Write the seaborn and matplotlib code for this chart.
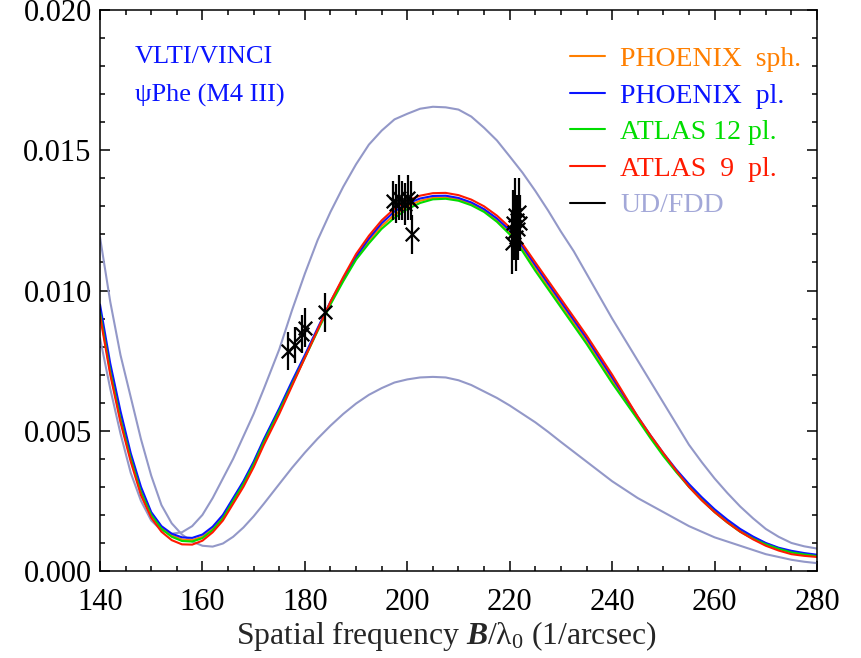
import numpy as np
import pandas as pd
import matplotlib
matplotlib.use("Agg")
import matplotlib.pyplot as plt
from matplotlib.lines import Line2D
from matplotlib.ticker import MultipleLocator, FormatStrFormatter
import seaborn as sns

# Spatial frequency grid (1/arcsec) of the model curves
freq = [140, 142, 144, 146, 148, 150, 152, 154, 156, 158, 160, 162, 164, 166,
        168, 170, 172, 175, 177.5, 180, 182.5, 185, 187.5, 190, 192.5, 195,
        197.5, 200, 202.5, 205, 207.5, 210, 212.5, 215, 217.5, 220, 222.5,
        225, 227.5, 230, 232.5, 235, 237.5, 240, 242.5, 245, 247.5, 250,
        252.5, 255, 257.5, 260, 262.5, 265, 267.5, 270, 272.5, 275, 277.5, 280]

# Squared visibility of the model atmospheres
phoenix_sph = [0.0093, 0.0072, 0.0055, 0.0041, 0.0029, 0.00205, 0.00155, 0.00127,
               0.00112, 0.0011, 0.00122, 0.0015, 0.00193, 0.00255, 0.00315,
               0.00385, 0.00465, 0.00575, 0.00671, 0.00765, 0.00861, 0.00955,
               0.01038, 0.01115, 0.01177, 0.0123, 0.0127, 0.0130, 0.0132,
               0.0133, 0.01332, 0.01325, 0.01309, 0.01285, 0.01251, 0.01207,
               0.01148, 0.0108, 0.01015, 0.0095, 0.00885, 0.0082, 0.0075,
               0.0068, 0.00612, 0.00545, 0.00478, 0.00415, 0.00357, 0.00305,
               0.00258, 0.00215, 0.00178, 0.00145, 0.00119, 0.00098, 0.00081,
               0.00069, 0.00061, 0.00055]
phoenix_pl = [0.0095, 0.0074, 0.0057, 0.0042, 0.0030, 0.0021, 0.0016, 0.00133,
              0.0012, 0.00118, 0.0013, 0.00158, 0.0020, 0.0026, 0.0032, 0.0039,
              0.0047, 0.0058, 0.00677, 0.0077, 0.00866, 0.0096, 0.01043,
              0.0112, 0.01185, 0.0124, 0.01282, 0.0131, 0.01328, 0.01337,
              0.01338, 0.0133, 0.01314, 0.0129, 0.01257, 0.01215, 0.01157,
              0.0109, 0.01025, 0.0096, 0.00895, 0.0083, 0.0076, 0.0069, 0.0062,
              0.0055, 0.00483, 0.0042, 0.00362, 0.0031, 0.00263, 0.0022,
              0.00183, 0.0015, 0.00123, 0.0010, 0.00083, 0.00072, 0.00064,
              0.00058]
atlas12_pl = [0.0092, 0.0071, 0.0054, 0.0040, 0.0028, 0.0020, 0.0015, 0.00122,
              0.00107, 0.00105, 0.00117, 0.00146, 0.00188, 0.0025, 0.0031,
              0.0038, 0.0046, 0.0057, 0.00665, 0.0076, 0.00856, 0.0095,
              0.01033, 0.0111, 0.01168, 0.0122, 0.01259, 0.0129, 0.01312,
              0.01325, 0.01327, 0.0132, 0.01304, 0.0128, 0.01245, 0.0120,
              0.0114, 0.0107, 0.01005, 0.0094, 0.00875, 0.0081, 0.0074, 0.0067,
              0.00605, 0.0054, 0.00473, 0.0041, 0.00353, 0.0030, 0.00253,
              0.0021, 0.00173, 0.0014, 0.00115, 0.00095, 0.00079, 0.00066,
              0.00059, 0.00053]
atlas9_pl = [0.0091, 0.0070, 0.0053, 0.0039, 0.0027, 0.0019, 0.0014, 0.0011,
             0.00095, 0.00094, 0.00108, 0.00138, 0.0018, 0.0024, 0.0030, 0.0037,
             0.0045, 0.0056, 0.0066, 0.0076, 0.0086, 0.0096, 0.01048, 0.0113,
             0.01195, 0.0125, 0.01292, 0.0132, 0.01338, 0.01347, 0.01348,
             0.0134, 0.01324, 0.0130, 0.01267, 0.01225, 0.01166, 0.0110,
             0.01035, 0.0097, 0.00905, 0.0084, 0.0077, 0.0070, 0.00625, 0.0055,
             0.00483, 0.0042, 0.00358, 0.0030, 0.00252, 0.0021, 0.00173,
             0.0014, 0.00113, 0.0009, 0.00073, 0.0006, 0.00054, 0.0005]

# Uniform disk and fully darkened disk fits
ud = [0.0083, 0.0065, 0.0049, 0.0035, 0.0025, 0.0018, 0.00145, 0.00133, 0.00138,
      0.0016, 0.0020, 0.0026, 0.0033, 0.0040, 0.0048, 0.0056, 0.0065, 0.0079,
      0.0093, 0.0106, 0.0118, 0.0128, 0.0137, 0.0145, 0.0152, 0.0157, 0.0161,
      0.0163, 0.01648, 0.01655, 0.01653, 0.01645, 0.0162, 0.0158, 0.01535,
      0.01478, 0.0142, 0.01355, 0.01285, 0.0121, 0.0114, 0.0106, 0.0098,
      0.0090, 0.00825, 0.0075, 0.00675, 0.0060, 0.00525, 0.0045, 0.00388,
      0.0033, 0.00278, 0.0023, 0.00188, 0.0015, 0.00122, 0.0010, 0.00088,
      0.0008]
fdd = [0.0119, 0.0096, 0.0077, 0.0062, 0.0047, 0.0034, 0.00235, 0.0017, 0.0013,
       0.00105, 0.0009, 0.00087, 0.00098, 0.00122, 0.00155, 0.00195, 0.0024,
       0.0031, 0.00368, 0.00422, 0.00472, 0.00518, 0.0056, 0.00597, 0.00628,
       0.00652, 0.00672, 0.00683, 0.0069, 0.00692, 0.0069, 0.0068, 0.00663,
       0.0064, 0.00617, 0.0059, 0.0056, 0.0053, 0.00496, 0.0046, 0.00425,
       0.0039, 0.00355, 0.0032, 0.0029, 0.0026, 0.00235, 0.0021, 0.00185,
       0.0016, 0.0014, 0.0012, 0.00105, 0.0009, 0.00075, 0.0006, 0.0005,
       0.0004, 0.00033, 0.00028]

# VLTI/VINCI measurements
obs_freq = [176.8, 178.1, 179.4, 180.0, 183.9,
            197.2, 197.8, 198.4, 198.9, 199.5, 200.1, 200.7, 200.9,
            220.4, 220.6, 220.8, 221.0, 221.2, 221.4, 221.6, 221.8, 222.0]
obs_v2 = [0.00785, 0.00805, 0.00845, 0.00868, 0.00922,
          0.0132, 0.0131, 0.0133, 0.0132, 0.0131, 0.0133, 0.0132, 0.0120,
          0.0117, 0.0124, 0.0121, 0.0127, 0.0119, 0.0125, 0.0122, 0.0128, 0.0124]
obs_err = [0.00068, 0.00065, 0.00068, 0.00068, 0.0007,
           0.0007, 0.0007, 0.0008, 0.0007, 0.00075, 0.0008, 0.0007, 0.0007,
           0.0011, 0.0012, 0.0010, 0.0013, 0.0012, 0.0009, 0.0011, 0.0012, 0.0010]

legend_labels = ["PHOENIX  sph.", "PHOENIX  pl.", "ATLAS 12 pl.", "ATLAS  9  pl.", "UD/FDD"]

c_orange = "#FF7F00"
c_blue = "#0A14FF"
c_green = "#00DD00"
c_red = "#FF1A00"
c_lav = "#9398C8"
c_lav_text = "#A3A8D8"

sns.set_style("ticks")
plt.rcParams.update({
    "font.family": ["Liberation Serif", "DejaVu Serif"],
    "mathtext.fontset": "custom",
    "mathtext.rm": "Liberation Serif",
    "mathtext.it": "Liberation Serif:italic",
    "mathtext.bf": "Liberation Serif:bold",
})
if "mathtext.bfit" in plt.rcParams:
    plt.rcParams["mathtext.bfit"] = "Liberation Serif:italic:bold"
    b_sym = r"\mathbfit{B}"
else:
    b_sym = r"\mathbf{B}"

fig = plt.figure(figsize=(8.61, 6.58), dpi=100)
ax = fig.add_axes([100 / 861, 1 - 571 / 658, 717 / 861, 561 / 658])

names = ["UD", "FDD", "PHOENIX sph.", "PHOENIX pl.", "ATLAS 12 pl.", "ATLAS 9 pl."]
values = [ud, fdd, phoenix_sph, phoenix_pl, atlas12_pl, atlas9_pl]
curves = pd.concat(
    [pd.DataFrame({"freq": freq, "v2": v, "model": n}) for n, v in zip(names, values)],
    ignore_index=True)
palette = {"UD": c_lav, "FDD": c_lav, "PHOENIX sph.": c_orange,
           "PHOENIX pl.": c_blue, "ATLAS 12 pl.": c_green, "ATLAS 9 pl.": c_red}
sns.lineplot(data=curves, x="freq", y="v2", hue="model", hue_order=names,
             palette=palette, estimator=None, sort=False, linewidth=1.5,
             legend=False, ax=ax)

ax.errorbar(obs_freq, obs_v2, yerr=obs_err, fmt="none", ecolor="black",
            elinewidth=1.6, capsize=0, zorder=5)
sns.scatterplot(x=obs_freq, y=obs_v2, marker="x", color="black", s=95,
                linewidth=1.6, zorder=6, ax=ax)

ax.set_xlim(140, 280)
ax.set_ylim(0.0, 0.020)
ax.xaxis.set_major_locator(MultipleLocator(20))
ax.xaxis.set_minor_locator(MultipleLocator(5))
ax.yaxis.set_major_locator(MultipleLocator(0.005))
ax.yaxis.set_minor_locator(MultipleLocator(0.001))
ax.yaxis.set_major_formatter(FormatStrFormatter("%.3f"))
ax.tick_params(which="both", direction="in", top=True, right=True,
               width=1.1, colors="black", labelsize=22)
ax.tick_params(which="major", length=7.2)
ax.tick_params(which="minor", length=3.6)
ax.tick_params(axis="x", which="major", pad=12.5)
ax.tick_params(axis="y", which="major", pad=6)
for sp in ax.spines.values():
    sp.set_linewidth(1.1)
    sp.set_color("black")

ax.set_ylabel("")
ax.set_xlabel(r"Spatial frequency $" + b_sym + r"/\mathrm{\lambda}_{0}$ (1/arcsec)",
              fontsize=22.8)
ax.xaxis.set_label_coords(0.4826, -0.085)

ax.text(0.049, 0.916, "VLTI/VINCI", transform=ax.transAxes, color=c_blue,
        fontsize=19, va="center", ha="left")
ax.text(0.049, 0.848, "\u03c8Phe (M4 III)", transform=ax.transAxes, color=c_blue,
        fontsize=19, va="center", ha="left")

handles = [Line2D([], [], color=c, lw=1.5) for c in
           [c_orange, c_blue, c_green, c_red, "black"]]
leg = ax.legend(handles, legend_labels, loc="upper left",
                bbox_to_anchor=(0.6555, 0.9347), frameon=False, fontsize=20,
                handlelength=1.25, handletextpad=0.55, labelspacing=0.40,
                borderpad=0, borderaxespad=0)
for txt, c in zip(leg.get_texts(), [c_orange, c_blue, c_green, c_red, c_lav_text]):
    txt.set_color(c)

fig.savefig("out.png", dpi=100)
